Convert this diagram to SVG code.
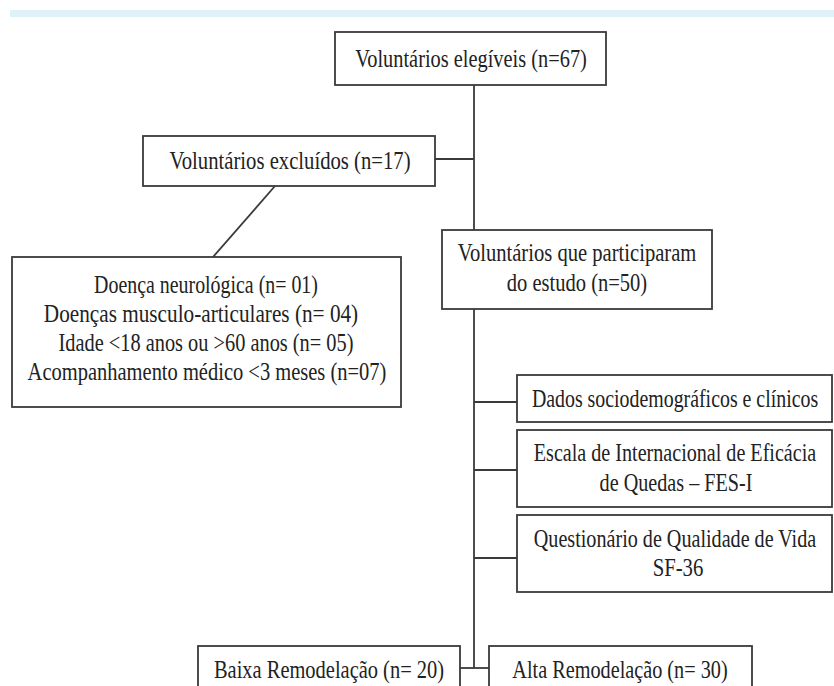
<svg xmlns="http://www.w3.org/2000/svg" width="834" height="686" viewBox="0 0 834 686">
<style>
.box{fill:#ffffff;stroke:#3a3a3a;stroke-width:1.8}
.ln{stroke:#3a3a3a;stroke-width:1.8;fill:none}
text{font-family:"Liberation Serif","Times New Roman",serif;font-size:26px;fill:#222222;text-anchor:middle}
</style>
<rect x="0" y="0" width="834" height="686" fill="#ffffff"/>
<rect x="10" y="10" width="824" height="7" fill="#dff2fa"/>
<g id="connectors">
<line class="ln" x1="474" y1="85" x2="474" y2="230"/>
<line class="ln" x1="435" y1="159" x2="474" y2="159"/>
<line class="ln" x1="275" y1="186" x2="213" y2="257"/>
<line class="ln" x1="474" y1="309" x2="474" y2="668"/>
<line class="ln" x1="474" y1="402" x2="517" y2="402"/>
<line class="ln" x1="474" y1="470" x2="517" y2="470"/>
<line class="ln" x1="474" y1="558" x2="517" y2="558"/>
<line class="ln" x1="460" y1="668" x2="489" y2="668"/>
</g>
<g id="n-elegiveis">
<rect class="box" x="335" y="32" width="271" height="53"/>
<text transform="matrix(0.78 0 0 1 471 0)" x="0" y="67" textLength="297" lengthAdjust="spacingAndGlyphs">Voluntários elegíveis (n=67)</text>
</g>
<g id="n-excluidos">
<rect class="box" x="143" y="136" width="292" height="50"/>
<text transform="matrix(0.78 0 0 1 290 0)" x="0" y="169" textLength="309" lengthAdjust="spacingAndGlyphs">Voluntários excluídos (n=17)</text>
</g>
<g id="n-motivos">
<rect class="box" x="12" y="257" width="389" height="150"/>
<text transform="matrix(0.78 0 0 1 206 0)" x="0" y="293" textLength="287" lengthAdjust="spacingAndGlyphs">Doença neurológica (n= 01)</text>
<text transform="matrix(0.78 0 0 1 201 0)" x="0" y="322" textLength="403" lengthAdjust="spacingAndGlyphs">Doenças musculo-articulares (n= 04)</text>
<text transform="matrix(0.78 0 0 1 206 0)" x="0" y="351" textLength="378" lengthAdjust="spacingAndGlyphs">Idade &lt;18 anos ou &gt;60 anos (n= 05)</text>
<text transform="matrix(0.78 0 0 1 207 0)" x="0" y="380" textLength="460" lengthAdjust="spacingAndGlyphs">Acompanhamento médico &lt;3 meses (n=07)</text>
</g>
<g id="n-participantes">
<rect class="box" x="442" y="230" width="270" height="79"/>
<text transform="matrix(0.78 0 0 1 577 0)" x="0" y="261" textLength="306" lengthAdjust="spacingAndGlyphs">Voluntários que participaram</text>
<text transform="matrix(0.78 0 0 1 577 0)" x="0" y="291" textLength="180" lengthAdjust="spacingAndGlyphs">do estudo (n=50)</text>
</g>
<g id="n-dados">
<rect class="box" x="517" y="375" width="315" height="47"/>
<text transform="matrix(0.78 0 0 1 675 0)" x="0" y="407" textLength="367" lengthAdjust="spacingAndGlyphs">Dados sociodemográficos e clínicos</text>
</g>
<g id="n-fes">
<rect class="box" x="517" y="430" width="315" height="77"/>
<text transform="matrix(0.78 0 0 1 675 0)" x="0" y="461" textLength="362" lengthAdjust="spacingAndGlyphs">Escala de Internacional de Eficácia</text>
<text transform="matrix(0.78 0 0 1 676 0)" x="0" y="491" textLength="196" lengthAdjust="spacingAndGlyphs">de Quedas – FES-I</text>
</g>
<g id="n-sf36">
<rect class="box" x="517" y="515" width="315" height="77"/>
<text transform="matrix(0.78 0 0 1 675 0)" x="0" y="547" textLength="362" lengthAdjust="spacingAndGlyphs">Questionário de Qualidade de Vida</text>
<text transform="matrix(0.78 0 0 1 678 0)" x="0" y="576" textLength="65" lengthAdjust="spacingAndGlyphs">SF-36</text>
</g>
<g id="n-baixa">
<rect class="box" x="198" y="646" width="262" height="60"/>
<text transform="matrix(0.78 0 0 1 329 0)" x="0" y="678" textLength="295" lengthAdjust="spacingAndGlyphs">Baixa Remodelação (n= 20)</text>
</g>
<g id="n-alta">
<rect class="box" x="489" y="646" width="263" height="60"/>
<text transform="matrix(0.78 0 0 1 620 0)" x="0" y="678" textLength="276" lengthAdjust="spacingAndGlyphs">Alta Remodelação (n= 30)</text>
</g>
</svg>
